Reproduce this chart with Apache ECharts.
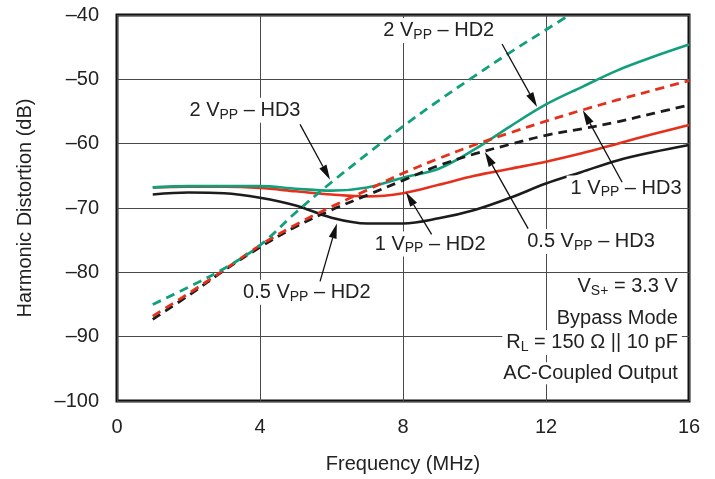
<!DOCTYPE html>
<html><head><meta charset="utf-8">
<script src="https://cdn.jsdelivr.net/npm/echarts@6/dist/echarts.min.js"></script>
<style>html,body{margin:0;padding:0;background:#fff}#c{width:715px;height:479px}</style>
</head><body><div id="c"></div>
<script>
// ---- data ----
const freq = [1,2,3,4,5,6,7,8,9,10,11,12,13,14,15,16];
const hd2_05 = [-67.9,-67.6,-67.7,-68.4,-69.6,-71.5,-72.4,-72.4,-71.6,-70.3,-68.4,-66.2,-64.4,-62.6,-61.3,-60.2];
const hd2_1  = [-66.8,-66.7,-66.7,-66.9,-67.4,-67.9,-68.2,-67.7,-66.4,-65.0,-63.9,-62.8,-61.5,-60.0,-58.5,-57.1];
const hd2_2  = [-66.8,-66.6,-66.6,-66.6,-67.0,-67.3,-66.8,-65.3,-63.9,-60.9,-57.3,-53.9,-51.2,-48.6,-46.5,-44.6];
const hd3_05 = [-87.3,-83.6,-79.7,-76.1,-72.9,-70.3,-68.0,-65.7,-63.4,-61.6,-60.1,-58.7,-57.7,-56.6,-55.3,-54.0];
const hd3_1  = [-86.8,-83.3,-79.6,-75.8,-72.6,-69.8,-67.2,-64.6,-62.3,-60.2,-58.3,-56.5,-54.8,-53.2,-51.7,-50.2];
const freq_hd3_2 = [1,2,3,4,5,6,7,8,9,10,11,12,12.65];
const hd3_2  = [-85.0,-82.3,-79.4,-75.8,-70.7,-66.0,-61.6,-57.3,-53.3,-49.5,-45.8,-42.3,-40.0];
const xTicks = {min:0, max:16, interval:4};
const yTicks = {min:-100, max:-40, interval:10};

// annotations (data coordinates)
const notes = [
  {text:'2 V{s|PP} – HD2', at:[9.0,-42.4]},
  {text:'2 V{s|PP} – HD3', at:[3.58,-54.8]},
  {text:'1 V{s|PP} – HD3', at:[14.24,-66.9]},
  {text:'0.5 V{s|PP} – HD3', at:[13.26,-75.2]},
  {text:'1 V{s|PP} – HD2', at:[8.76,-75.6]},
  {text:'0.5 V{s|PP} – HD2', at:[5.31,-83.1]}
];
const arrows = [
  {from:[10.77,-44.5], to:[11.75,-54.3]},
  {from:[5.12,-57.0], to:[5.96,-65.6]},
  {from:[14.13,-66.0], to:[13.03,-54.8]},
  {from:[11.5,-73.2], to:[10.29,-61.3]},
  {from:[8.8,-74.1], to:[8.08,-67.5]},
  {from:[5.68,-81.4], to:[6.15,-72.4]}
];
const conditions = [
  {text:'V{s|S+} = 3.3 V', at:[15.8,-82.2]},
  {text:'Bypass Mode', at:[15.8,-87.1]},
  {text:'R{s|L} = 150 Ω || 10 pF', at:[15.8,-90.9]},
  {text:'AC-Coupled Output', at:[15.8,-95.7]}
];

const FONT = '"Liberation Sans", Arial, Helvetica, sans-serif';
const GREEN = '#12a07c', RED = '#e5301c', BLACK = '#1c1c1c';
const TXT = '#222';

function pairs(xs, ys){ return xs.map((x,i)=>[x, ys[i]]); }
function fmt(v){ return v < 0 ? '–' + Math.abs(v) : String(v); }

const chart = echarts.init(document.getElementById('c'));
function lineSeries(name, xs, ys, color, dashed){
  return {
    name, type:'line', data:pairs(xs, ys), showSymbol:false, smooth:0.35,
    lineStyle:{color, width: dashed ? 2.8 : 2.6, type: dashed ? [9,6] : 'solid'},
    z: dashed ? 3 : 2, silent:true
  };
}
chart.setOption({
  animation:false,
  grid:{left:117, right:26, top:15, bottom:77, show:true, borderColor:'#111', borderWidth:3, backgroundColor:'transparent'},
  xAxis:{type:'value', min:xTicks.min, max:xTicks.max, interval:xTicks.interval,
    name:'Frequency (MHz)', nameLocation:'middle', nameGap:53,
    nameTextStyle:{fontFamily:FONT, fontSize:20, color:TXT},
    axisLine:{show:false}, axisTick:{show:false},
    axisLabel:{margin:16, fontSize:20, color:TXT, fontFamily:FONT, showMinLabel:true, showMaxLabel:true},
    splitLine:{show:true, lineStyle:{color:'#4a4a4a', width:1}}},
  yAxis:{type:'value', min:yTicks.min, max:yTicks.max, interval:yTicks.interval,
    name:'Harmonic Distortion (dB)', nameLocation:'middle', nameGap:82,
    nameTextStyle:{fontFamily:FONT, fontSize:20, color:TXT},
    axisLine:{show:false}, axisTick:{show:false},
    axisLabel:{margin:18, fontSize:20, color:TXT, fontFamily:FONT, formatter:fmt, showMinLabel:true, showMaxLabel:true},
    splitLine:{show:true, lineStyle:{color:'#4a4a4a', width:1}}},
  series:[
    lineSeries('0.5 VPP – HD2', freq, hd2_05, BLACK, false),
    lineSeries('1 VPP – HD2', freq, hd2_1, RED, false),
    lineSeries('2 VPP – HD2', freq, hd2_2, GREEN, false),
    lineSeries('0.5 VPP – HD3', freq, hd3_05, BLACK, true),
    lineSeries('1 VPP – HD3', freq, hd3_1, RED, true),
    lineSeries('2 VPP – HD3', freq_hd3_2, hd3_2, GREEN, true)
  ]
});

function px(p){ return chart.convertToPixel({gridIndex:0}, p); }
const rich = {s:{fontSize:14, fontFamily:FONT, fill:TXT, color:TXT, padding:[9,0,0,0]}};
const graphics = [];
function textEl(t, align){
  const p = px(t.at);
  return {type:'text', x:p[0], y:p[1], z:5, silent:true,
    style:{text:t.text, fontSize:20, fontFamily:FONT, fill:TXT, align:align, verticalAlign:'middle',
      backgroundColor:'#fff', padding:[1,4,1,4], rich:rich}};
}
notes.forEach(n => graphics.push(textEl(n, 'center')));
conditions.forEach(n => graphics.push(textEl(n, 'right')));
arrows.forEach(a => {
  const p0 = px(a.from), p1 = px(a.to);
  const dx = p1[0]-p0[0], dy = p1[1]-p0[1], L = Math.hypot(dx, dy);
  const ux = dx/L, uy = dy/L, hl = 15, hw = 4;
  const bx = p1[0]-ux*hl, by = p1[1]-uy*hl;
  graphics.push({type:'line', z:20, silent:true, shape:{x1:p0[0], y1:p0[1], x2:bx, y2:by}, style:{stroke:'#111', lineWidth:1.3}});
  graphics.push({type:'polygon', z:20, silent:true,
    shape:{points:[[p1[0],p1[1]],[bx-uy*hw, by+ux*hw],[bx+uy*hw, by-ux*hw]]}, style:{fill:'#111'}});
});
chart.setOption({graphic:{elements:graphics}});
</script>
</body></html>
